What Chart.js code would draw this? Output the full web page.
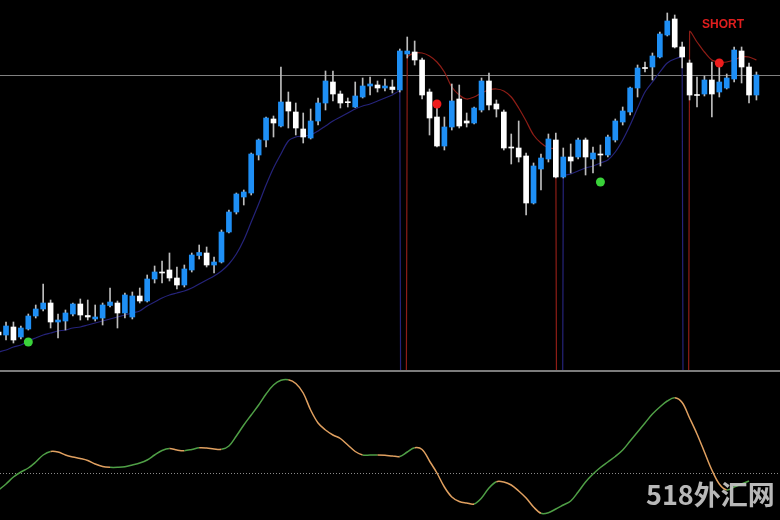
<!DOCTYPE html>
<html><head><meta charset="utf-8">
<script src="https://cdn.jsdelivr.net/npm/chart.js@4.4.1/dist/chart.umd.min.js"></script>
<style>
html,body{margin:0;padding:0;background:#000;width:780px;height:520px;overflow:hidden;}
#wrap{position:relative;width:780px;height:520px;background:#000;}
#c1{position:absolute;left:0;top:0;}
#sep{position:absolute;left:0;top:370px;width:780px;height:2px;background:#7c7c7c;}
#c2{position:absolute;left:0;top:372px;}
#wm{position:absolute;left:646px;top:472px;font-family:"Noto Sans CJK SC";font-weight:700;font-size:27px;color:rgba(200,200,200,0.92);white-space:nowrap;line-height:44px;}
</style></head>
<body>
<div id="wrap">
<canvas id="c1" width="780" height="370"></canvas>
<div id="sep"></div>
<canvas id="c2" width="780" height="148"></canvas>
<div id="wm">518外汇网</div>
</div>
<script>
// ---- price data (points) ----
const opens  = [68,65,73,63,71,84,91,97,78,79,86,96,84.5,81,82,94.5,97,87,83,104,99,121,128,130,122,115,130,144.5,147,135,138,168,188,203,207,245,260,281,274,298,288,271,262,279,297,318,306,298,293,303,314,315,312,313,310,346,348,340,308,283,254,273,301,279,277,290,319,296,288,253,252,244,197,231,241,260,223,243,243,260,241,246,245,260,278,288,312,332.5,333,343,365,381,353,337,305.5,306,320,308,312,321,349,333,305];
const highs  = [70,78,78,74,86,95,116,100,86,90,97,101,100,95,97,112,99,107,108,112,125,134,139,147,133,135,147,155,153,143,170,190,207,210,247,261,283,284,333,308,297,287,291,302,329,329,309,302,318,322,323,319,321,320,351,363,359,342,311,295,283,316,315,287,293,322,327,300,290,266,279,247,237,246,266,267,252,256,262,262,253,255,265,281,293,313,335,338,347,368,387,385,358,340,323,324,338,337,326,353,353,337,328];
const lows   = [63,60,57,61,70,82,89,72,62,70,84,80,80,79,75,93,72,82,81,97,98,117,117,119,111,113,128,141,133,127,137,167,186,195,205,240,253,263,273,272,265,257,261,275,290,299,292,293,292.5,302,305,308,309,307,308,342,335,301,265,253,250,270,272,273,276,288,290,283,250,236,238,185,196,210,238,222,222,227,241,225,227,234,243,258,275,285,303,328,320,342,364,352,332,300,293,304,283,303,311,318,317,297,300];
const closes = [65,74,60,72,84,91,97,78,80,87,96,85,83,83,95,98,87,105,104,99,121,128,127,122,115,131,145,147.5,135,138,168,188,206,208,246,260,282,277,298,289,272,263,279,297,319,306,297,297.3,304,314,316,312,314,310.5,349,349,340,305,282,254,273,299,274,277,292,319,295,291,252,252,243,197,234,242,261,223,243,239,260,243,247,245,263,279,289,312,332,331.5,344,366,379,353,343,305,304.5,320,306,318,322,350,333,305,325];

// ---- trailing stop buffers (OFF = indicator empty value, far below the chart) ----
const OFF = -3000;
const longStop = [48,50,53,55,59,62,65,67,69,70,72,73,75,77,79,81,83,85,87,89,94,98,102,105,107,109,112,116,120,124,129,136,146,160,178,196,215,232,246,259,263,264,265,269,274,279,283,287,291,294,296,299,302,305,308,
  OFF,null,null,null,null,null,null,null,null,null,null,null,null,null,null,null,null,null,null,null,
  OFF,223,226,229,232,234,237,240,248,260,275,292,308,318,328,337,341,342,
  OFF,null,null,null,null,null,null,null,null,null];
const shortStop = [null,null,null,null,null,null,null,null,null,null,null,null,null,null,null,null,null,null,null,null,
  null,null,null,null,null,null,null,null,null,null,null,null,null,null,null,null,null,null,null,null,
  null,null,null,null,null,null,null,null,null,null,null,null,null,null,
  OFF,342,347,347,344,338,328,313,305,301,303,307,310,311,309,303,292,279,265,257,252,250,
  OFF,null,null,null,null,null,null,null,null,null,null,null,null,null,null,null,
  OFF,368,358,348,340,338,338,340,343,343,340];

// ---- signals ----
const signalBar   = [4, 59, 81, 97];
const signalPrice = [58, 296, 218, 337];
const signalSide  = ['buy', 'sell', 'buy', 'sell'];
const levelPrice  = 325;
const labelText = 'SHORT';
const labelBar = 97.5, labelPrice = 375;

// ---- oscillator ----
const osc = [-17,-11,-4,1,5,11,18,21.5,21,18,16,14.5,12.5,9,6.5,5.7,5.7,6.2,8,10,13,18,22.5,24.5,23,22.3,23.5,25.2,25,24,23.7,27,37,48,58,68,79,88,92.7,93.2,89.5,80,63,50,43,38,34.5,28,21.5,18,18,18,17.7,17,16.5,21,25.2,23.5,12,0,-14,-24,-28.5,-30,-31,-25,-15,-8.7,-9,-12,-18,-25,-34,-40.3,-39.7,-36,-32,-28,-19,-9,-1,5.5,11,16.5,23,32,41,50,59,66,72,75.2,70.5,55,39,21,3,-11,-17,-14,-11,-8];

const idx = opens.map((_, i) => i);
const X_MIN = 0.19, X_MAX = 105.17;

const BLUE = '#1e8ff5';
const mainPlugin = {
  id: 'mainExtras',
  beforeDatasetsDraw(chart) {
    const {ctx, chartArea, scales} = chart;
    const y = Math.round(scales.y.getPixelForValue(levelPrice)) + 0.5;
    ctx.save();
    ctx.strokeStyle = 'rgba(150,150,150,0.85)';
    ctx.lineWidth = 1;
    ctx.beginPath(); ctx.moveTo(chartArea.left, y); ctx.lineTo(chartArea.right, y); ctx.stroke();
    ctx.restore();
  },
  afterDatasetsDraw(chart) {
    const {ctx, scales} = chart;
    ctx.save();
    ctx.fillStyle = '#e01e1e';
    ctx.font = 'bold 12px "Liberation Sans", Arial, sans-serif';
    ctx.textAlign = 'center'; ctx.textBaseline = 'middle';
    ctx.fillText(labelText, scales.x.getPixelForValue(labelBar), scales.y.getPixelForValue(labelPrice));
    ctx.restore();
  }
};

new Chart(document.getElementById('c1'), {
  type: 'bar',
  data: {
    datasets: [
      { type: 'scatter', data: signalBar.map((b, i) => ({x: b, y: signalPrice[i]})),
        pointRadius: 4.5, pointBorderWidth: 0,
        pointBackgroundColor: signalSide.map(s => s === 'buy' ? '#3ad23a' : '#ee1c1c'), order: 0 },
      { type: 'bar', data: idx.map(i => ({x: i, y: [opens[i], closes[i]]})),
        backgroundColor: idx.map(i => closes[i] >= opens[i] ? BLUE : '#ffffff'),
        barThickness: 5, grouped: false, minBarLength: 1, order: 1 },
      { type: 'bar', data: idx.map(i => ({x: i, y: [lows[i], highs[i]]})),
        backgroundColor: '#bdbdbd', barThickness: 1, grouped: false, order: 2 },
      { type: 'line', data: idx.map(i => ({x: i, y: longStop[i]})),
        borderColor: '#25237a', borderWidth: 1.2, pointRadius: 0, tension: 0.3, spanGaps: false, order: 5 },
      { type: 'line', data: idx.map(i => ({x: i, y: shortStop[i]})),
        borderColor: '#8e1d16', borderWidth: 1.2, pointRadius: 0, tension: 0.3, spanGaps: false, order: 5 }
    ]
  },
  options: {
    responsive: false, animation: false, events: [],
    layout: { padding: 0, autoPadding: false },
    plugins: { legend: { display: false }, tooltip: { enabled: false } },
    scales: {
      x: { type: 'linear', min: X_MIN, max: X_MAX, offset: false, display: false },
      y: { type: 'linear', min: 30, max: 400, display: false }
    }
  },
  plugins: [mainPlugin]
});

const zeroPlugin = {
  id: 'zeroLine',
  beforeDatasetsDraw(chart) {
    const {ctx, chartArea, scales} = chart;
    const y = Math.round(scales.y.getPixelForValue(0)) + 0.5;
    ctx.save();
    ctx.strokeStyle = '#8a8a8a'; ctx.lineWidth = 1; ctx.setLineDash([1, 2]);
    ctx.beginPath(); ctx.moveTo(chartArea.left, y); ctx.lineTo(chartArea.right, y); ctx.stroke();
    ctx.restore();
  }
};

new Chart(document.getElementById('c2'), {
  type: 'line',
  data: {
    datasets: [{
      data: osc.map((v, i) => ({x: i, y: v})),
      borderWidth: 1.5, pointRadius: 0, tension: 0.35,
      borderColor: '#4f9f46',
      segment: { borderColor: c => c.p1.parsed.y >= c.p0.parsed.y ? '#4f9f46' : '#e0a060' }
    }]
  },
  options: {
    responsive: false, animation: false, events: [],
    layout: { padding: 0, autoPadding: false },
    plugins: { legend: { display: false }, tooltip: { enabled: false } },
    scales: {
      x: { type: 'linear', min: X_MIN, max: X_MAX, display: false },
      y: { type: 'linear', min: -47, max: 101, display: false }
    }
  },
  plugins: [zeroPlugin]
});
</script>
</body></html>
